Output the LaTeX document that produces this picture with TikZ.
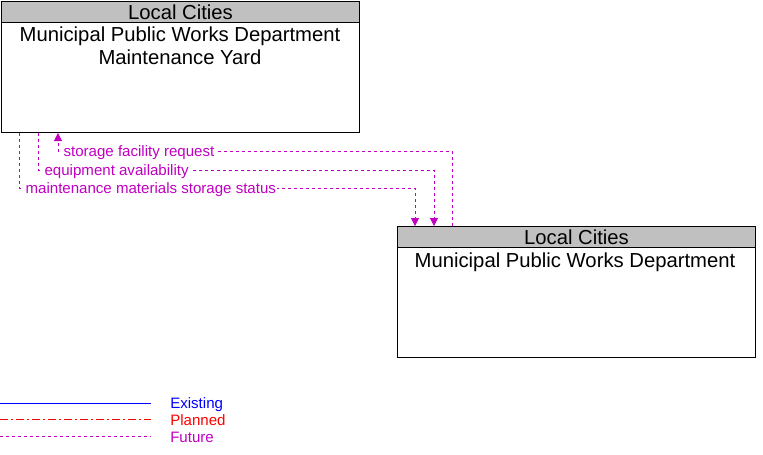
\documentclass[tikz,border=0pt]{standalone}
\usepackage{fontspec}
\setmainfont{Liberation Sans}
\usetikzlibrary{positioning,calc,arrows.meta}
\definecolor{futurecol}{RGB}{192,0,192}
\definecolor{hdrgray}{RGB}{192,192,192}

\begin{document}
\begin{tikzpicture}[x=0.75pt, y=-0.75pt,
    box/.style={draw, line width=0.75pt, minimum width=268.5pt, minimum height=98.25pt, anchor=north west, inner sep=0pt},
    hdr/.style={draw, line width=0.75pt, fill=hdrgray, minimum width=268.5pt, minimum height=15.75pt, anchor=north west, inner sep=0pt, font=\fontsize{15.2}{16}\selectfont},
    body/.style={anchor=north, align=center, font=\fontsize{15.2}{17.6}\selectfont, inner sep=0pt},
    future/.style={futurecol, line width=0.6pt, dash pattern=on 2.25pt off 2.25pt},
    flow/.style={fill=white, text=futurecol, inner sep=1pt, anchor=west, font=\fontsize{11.3}{12}\selectfont},
    tip/.style={-{Triangle[width=6pt,length=6pt]}},
    legtxt/.style={anchor=west, inner sep=0pt, font=\fontsize{11.3}{12}\selectfont}]
    \useasboundingbox (0,0) rectangle (763,454);

    % elements
    \node[box] (yard) at (1,1) {};
    \node[hdr] (yardhdr) at (1,1) {Local Cities};
    \node[body] (yardtxt) at (180,26.5) {Municipal Public Works Department\\Maintenance Yard};

    \node[box] (dept) at (397,226) {};
    \node[hdr] (depthdr) at (397,226) {Local Cities};
    \node[body] (depttxt) at (575,252.5) {Municipal Public Works Department};

    % flows
    \coordinate (s1) at ($(dept.north west)+(55,0)$);
    \coordinate (e1) at ($(yard.south west)+(57,0)$);
    \draw[future, tip] (s1) -- (s1 |- 0,151) -- (e1 |- 0,151) -- (e1);
    \node[flow] (f1) at (62,152.5) {storage facility request};

    \coordinate (s2) at ($(yard.south west)+(37,0)$);
    \coordinate (e2) at ($(dept.north west)+(37,0)$);
    \draw[future, tip] (s2) -- (s2 |- 0,170) -- (e2 |- 0,170) -- (e2);
    \node[flow] (f2) at (43,171.5) {equipment availability};

    \coordinate (s3) at ($(yard.south west)+(18,0)$);
    \coordinate (e3) at ($(dept.north west)+(18,0)$);
    \draw[future, tip] (s3) -- (s3 |- 0,188) -- (e3 |- 0,188) -- (e3);
    \node[flow] (f3) at (24,189.5) {maintenance materials storage status};

    % legend
    \coordinate (l1) at (0,403);
    \coordinate (l2) at (0,419);
    \coordinate (l3) at (0,436);
    \draw[blue, line width=0.75pt] (l1) -- ++(151,0);
    \draw[red, line width=0.75pt, dash pattern=on 6pt off 2pt on 2pt off 2pt] (l2) -- ++(151,0);
    \draw[future] (l3) -- ++(151,0);
    \node[legtxt, text=blue] (lg1) at (170,404.5) {Existing};
    \node[legtxt, text=red] (lg2) at (170,420.5) {Planned};
    \node[legtxt, text=futurecol] (lg3) at (170,437.5) {Future};
\end{tikzpicture}
\end{document}
